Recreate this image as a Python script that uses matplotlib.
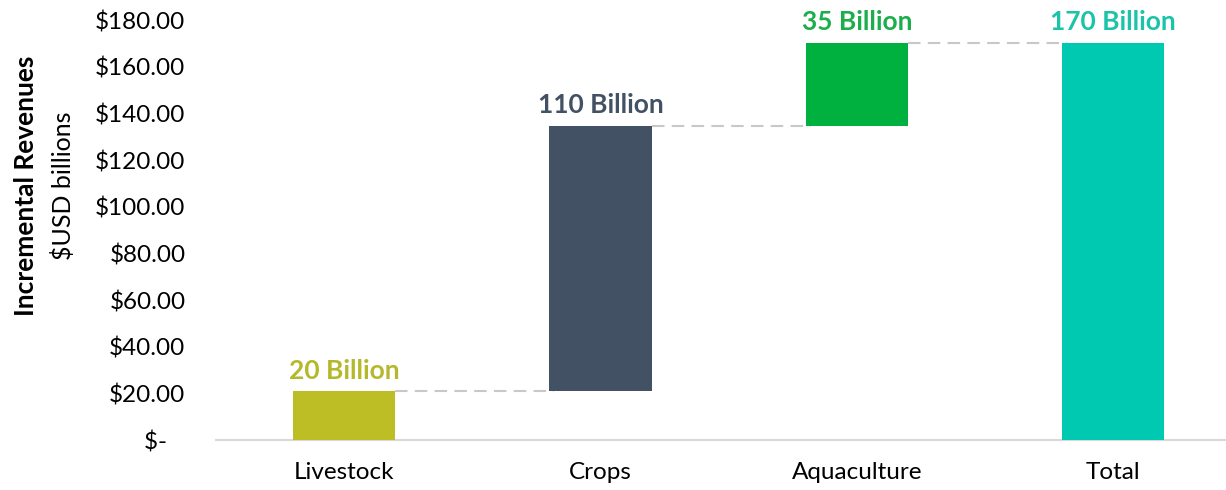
import matplotlib.pyplot as plt
import numpy as np

# ── data ──────────────────────────────────────────────────────────────────────
categories = ["Livestock", "Crops", "Aquaculture", "Total"]
steps      = [21.0, 113.8, 35.5]          # incremental pieces
total      = 170.3
labels     = ["20 Billion", "110 Billion", "35 Billion", "170 Billion"]
colors     = ["#BDBD26", "#435165", "#00B140", "#00C9B1"]
label_cols = ["#B5B82A", "#435165", "#1BAE4A", "#1BC4A8"]
yticks     = [0, 20, 40, 60, 80, 100, 120, 140, 160, 180]
ytick_lbls = ["$-   "] + [f"${v:.2f}" for v in yticks[1:]]

# ── style ─────────────────────────────────────────────────────────────────────
plt.rcParams["font.family"] = ["Lato", "DejaVu Sans"]

fig = plt.figure(figsize=(12.26, 4.90), dpi=100)
ax = fig.add_axes([0.1762, 0.102, 0.8238, 0.857])

heights = steps + [total]
bottoms = list(np.concatenate([[0], np.cumsum(steps)[:-1]])) + [0]
tops    = [b + h for b, h in zip(bottoms, heights)]
x = np.arange(len(categories))
width = 0.4

ax.bar(x, heights, bottom=bottoms, width=width, color=colors, zorder=3)

# connectors between bars
for i in range(len(categories) - 1):
    ax.plot([x[i] + width / 2, x[i + 1] - width / 2 + 0.02], [tops[i], tops[i]],
            color="#C8C8C8", lw=1.5, dashes=(6, 3.5), zorder=2)

# value labels
for xi, top, lab, c in zip(x, tops, labels, label_cols):
    ax.annotate(lab, (xi, top), xytext=(0, 9), textcoords="offset points",
                ha="center", va="baseline", fontsize=19, fontweight="bold",
                color=c)

ax.set_xlim(-0.5, 3.44)
ax.set_ylim(0, 180)
ax.set_xticks(x)
ax.set_xticklabels(categories, fontsize=17.5)
ax.set_yticks(yticks)
ax.set_yticklabels(ytick_lbls, fontsize=17.5)
ax.tick_params(axis="y", length=0, pad=22)
ax.tick_params(axis="x", length=0, pad=16)

for s in ["left", "right", "top"]:
    ax.spines[s].set_visible(False)
ax.spines["bottom"].set_color("#D9D9D9")
ax.spines["bottom"].set_linewidth(1.5)

fig.text(0.021, 0.62, "Incremental Revenues", rotation=90, ha="center",
         va="center", fontsize=19, fontweight="bold")
fig.text(0.051, 0.62, "$USD billions", rotation=90, ha="center",
         va="center", fontsize=18)

fig.savefig("out.png", dpi=100)
